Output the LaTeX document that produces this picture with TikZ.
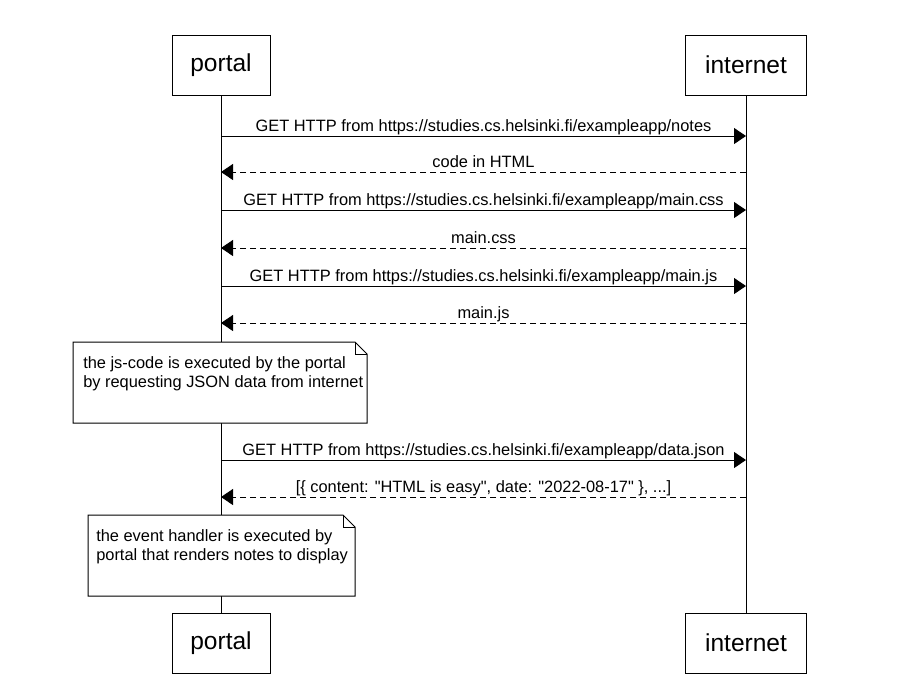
\documentclass[tikz,border=0pt]{standalone}
\usepackage{fontspec}
\setmainfont{Liberation Sans}
\usetikzlibrary{arrows.meta}

\begin{document}
\begin{tikzpicture}[x=0.75pt, y=-0.75pt,
    actor/.style={draw, line width=0.75pt, minimum height=45pt, inner sep=0pt,
        font=\fontsize{18.4}{22}\selectfont},
    msg/.style={line width=0.75pt, -{Triangle[length=9pt, width=12pt]}},
    reply/.style={msg, dash pattern=on 4.5pt off 3pt},
    msglabel/.style={anchor=base, yshift=3.75pt, inner sep=0pt,
        font=\fontsize{12.3}{14}\selectfont},
    notebox/.style={draw, fill=white, line width=0.75pt},
    notetext/.style={anchor=north west, align=left, inner sep=0pt,
        font=\fontsize{12.3}{14.5}\selectfont}]
    \useasboundingbox (0,0) rectangle (919,687);

    % participants
    \node[actor, minimum width=73.5pt] (portalTop) at (221,65) {portal};
    \node[actor, minimum width=90.75pt] (internetTop) at (746,65) {internet};
    \node[actor, minimum width=73.5pt] (portalBot) at (221,643) {portal};
    \node[actor, minimum width=90.75pt] (internetBot) at (746,643) {internet};

    % lifelines
    \draw[line width=0.75pt] (portalTop) -- (portalBot);
    \draw[line width=0.75pt] (internetTop) -- (internetBot);

    % message rows
    \foreach \n/\y in {1/136, 2/172, 3/210, 4/248, 5/286, 6/323, 7/460, 8/497} {
        \coordinate (p\n) at (221,\y);
        \coordinate (i\n) at (746,\y);
    }

    \draw[msg] (p1) -- node[msglabel] {GET HTTP from https://studies.cs.helsinki.fi/exampleapp/notes} (i1);
    \draw[reply] (i2) -- node[msglabel] {code in HTML} (p2);
    \draw[msg] (p3) -- node[msglabel] {GET HTTP from https://studies.cs.helsinki.fi/exampleapp/main.css} (i3);
    \draw[reply] (i4) -- node[msglabel] {main.css} (p4);
    \draw[msg] (p5) -- node[msglabel] {GET HTTP from https://studies.cs.helsinki.fi/exampleapp/main.js} (i5);
    \draw[reply] (i6) -- node[msglabel] {main.js} (p6);
    \draw[msg] (p7) -- node[msglabel] {GET HTTP from https://studies.cs.helsinki.fi/exampleapp/data.json} (i7);
    \draw[reply] (i8) -- node[msglabel] {[\{ content: \textquotedbl HTML is easy\textquotedbl, date: \textquotedbl 2022-08-17\textquotedbl\ \}, ...]} (p8);

    % notes
    \draw[notebox] (73,342) -- (355,342) -- (367,354) -- (367,423) -- (73,423) -- cycle;
    \draw[line width=0.75pt] (355,342) -- (355,354) -- (367,354);
    \node[notetext] (jsNote) at (83,356) {the js-code is executed by the portal\\by requesting JSON data from internet};

    \draw[notebox] (88,515) -- (343,515) -- (355,527) -- (355,596) -- (88,596) -- cycle;
    \draw[line width=0.75pt] (343,515) -- (343,527) -- (355,527);
    \node[notetext] (handlerNote) at (96,529) {the event handler is executed by\\portal that renders notes to display};
\end{tikzpicture}
\end{document}
